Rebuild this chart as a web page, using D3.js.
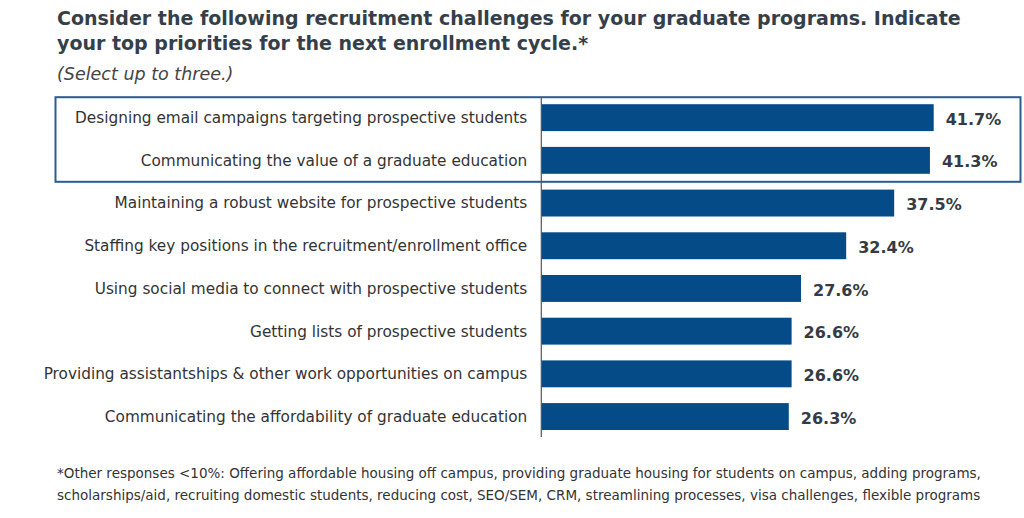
<!DOCTYPE html>
<html>
<head>
<meta charset="utf-8">
<script src="https://cdn.jsdelivr.net/npm/d3@7"></script>
<style>
  html, body { margin: 0; padding: 0; background: #ffffff; }
  svg { display: block; font-family: "DejaVu Sans", Verdana, sans-serif; }
</style>
</head>
<body>
<svg id="chart" width="1024" height="518"></svg>
<script>
const titleLines = [
  "Consider the following recruitment challenges for your graduate programs. Indicate",
  "your top priorities for the next enrollment cycle.*"
];
const subtitle = "(Select up to three.)";
const categories = [
  "Designing email campaigns targeting prospective students",
  "Communicating the value of a graduate education",
  "Maintaining a robust website for prospective students",
  "Staffing key positions in the recruitment/enrollment office",
  "Using social media to connect with prospective students",
  "Getting lists of prospective students",
  "Providing assistantships & other work opportunities on campus",
  "Communicating the affordability of graduate education"
];
const values = [41.7, 41.3, 37.5, 32.4, 27.6, 26.6, 26.6, 26.3];
const highlighted = [categories[0], categories[1]];
const footnoteLines = [
  "*Other responses <10%: Offering affordable housing off campus, providing graduate housing for students on campus, adding programs,",
  "scholarships/aid, recruiting domestic students, reducing cost, SEO/SEM, CRM, streamlining processes, visa challenges, flexible programs"
];

const data = categories.map((c, i) => ({ cat: c, val: values[i] }));
const svg = d3.select("#chart");

const x = d3.scaleLinear().domain([0, 50]).range([541.3, 1011.8]);
const y = d3.scaleBand().domain(categories).range([96.3, 437.9])
  .paddingInner(0.37).paddingOuter(0.185);

// Title
svg.append("g").selectAll("text").data(titleLines).join("text")
  .attr("x", 57).attr("y", (d, i) => 24.5 + i * 25.5)
  .attr("font-size", 19).attr("font-weight", "bold").attr("fill", "#353f49")
  .text(d => d);

svg.append("text").attr("x", 57).attr("y", 79.5)
  .attr("font-size", 17.5).attr("font-style", "italic").attr("fill", "#444")
  .text(subtitle);

// Highlight box
const hTop = y(highlighted[0]) - 7;
const hBot = y(highlighted[highlighted.length - 1]) + y.bandwidth() + 8;
svg.append("rect")
  .attr("x", 55.5).attr("y", hTop).attr("width", 965).attr("height", hBot - hTop)
  .attr("fill", "none").attr("stroke", "#2b5c91").attr("stroke-width", 2);

// Bars
svg.append("g").selectAll("rect").data(data).join("rect")
  .attr("x", x(0)).attr("y", d => y(d.cat))
  .attr("width", d => x(d.val) - x(0)).attr("height", y.bandwidth())
  .attr("fill", "#044b88");

// Axis line
svg.append("line").attr("x1", x(0)).attr("x2", x(0))
  .attr("y1", 97).attr("y2", 437)
  .attr("stroke", "#555").attr("stroke-width", 1.2);

// Category labels
svg.append("g").selectAll("text").data(data).join("text")
  .attr("x", x(0) - 14).attr("y", d => y(d.cat) + y.bandwidth() / 2)
  .attr("dy", "0.35em").attr("text-anchor", "end")
  .attr("font-size", 15.3).attr("fill", "#333")
  .text(d => d.cat);

// Value labels
svg.append("g").selectAll("text").data(data).join("text")
  .attr("x", d => x(d.val) + 12).attr("y", d => y(d.cat) + y.bandwidth() / 2 + 1.5)
  .attr("dy", "0.35em")
  .attr("font-size", 16).attr("font-weight", "bold").attr("fill", "#343b44")
  .text(d => d3.format(".1f")(d.val) + "%");

// Footnote
svg.append("g").selectAll("text").data(footnoteLines).join("text")
  .attr("x", 57).attr("y", (d, i) => 478 + i * 22)
  .attr("font-size", 13.5).attr("fill", "#333")
  .text(d => d);
</script>
</body>
</html>
